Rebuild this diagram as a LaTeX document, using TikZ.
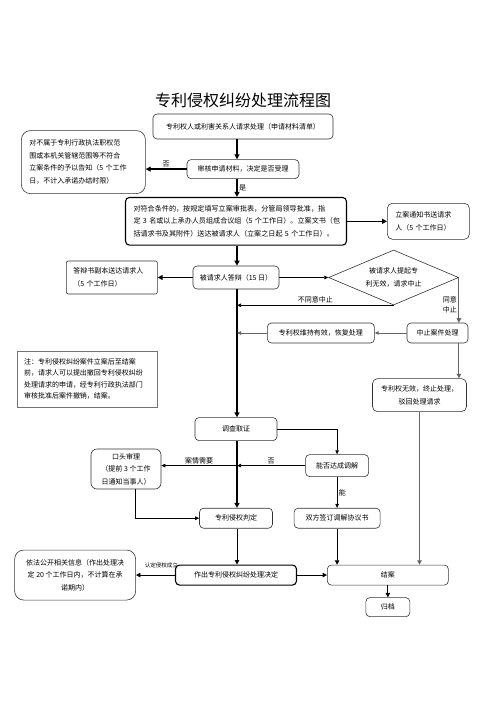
\documentclass[tikz,border=0pt]{standalone}
\usepackage{fontspec}
\setmainfont{Noto Sans CJK SC}
\usepackage{tikz}
\usetikzlibrary{positioning, arrows.meta, shapes.geometric, calc}

\begin{document}
\begin{tikzpicture}[
    x=1pt, y=1pt,
    box/.style={rectangle, draw=black!80, line width=0.6pt, rounded corners=4pt, align=center, inner sep=2pt, font=\fontsize{7}{12.5}\selectfont},
    boldbox/.style={box, draw=black, line width=1.1pt},
    softbox/.style={box, rounded corners=9pt},
    decision/.style={diamond, draw=black!80, line width=0.6pt, aspect=2.4, minimum width=130pt, minimum height=55pt, inner sep=0pt, align=center, font=\fontsize{7}{12.5}\selectfont},
    flow/.style={-{Triangle[width=5pt,length=5pt]}, line width=1.3pt},
    mid/.style={-{Triangle[width=4.5pt,length=4.5pt]}, line width=0.9pt},
    link/.style={-{Triangle[width=3.5pt,length=4pt]}, line width=0.6pt},
    grayflow/.style={-{Triangle[width=4.5pt,length=4.5pt]}, draw=black!60, line width=1.1pt},
    graylink/.style={-{Triangle[width=3.5pt,length=4pt]}, draw=black!60, line width=0.8pt},
    lab/.style={font=\fontsize{7}{10}\selectfont, inner sep=1.5pt, align=center}
]
\useasboundingbox (0,0) rectangle (496,-702);
\coordinate (spine) at (237,0); % main vertical line

% Nodes
\node[font=\fontsize{16}{18}\selectfont] (title) at (243,-100) {专利侵权纠纷处理流程图};
\node[box, minimum width=180pt, minimum height=25pt] (apply) at (243,-126.5) {专利权人或利害关系人请求处理（申请材料清单）};
\node[box, minimum width=112pt, minimum height=19pt] (review) [below=20pt of apply] {审核申请材料，决定是否受理};
\node[softbox, align=left, text width=108pt, inner sep=8pt, minimum height=63pt] (reject) [left=41pt of review, yshift=7pt] {对不属于专利行政执法职权范\\围或本机关管辖范围等不符合\\立案条件的予以告知（5~个工作\\日，不计入承诺办结时限）};
\node[boldbox, align=left, text width=205pt, inner sep=8pt, minimum height=46pt, font=\fontsize{7.1}{12.5}\selectfont] (accept) [below=18pt of review, xshift=-7pt] {对符合条件的，按规定填写立案审批表，分管局领导批准，指\\定~3~名或以上承办人员组成合议组（5~个工作日）。立案文书（包\\括请求书及其附件）送达被请求人（立案之日起~5~个工作日）。};
\node[box, rounded corners=5pt, align=left, text width=66pt, inner sep=8pt, minimum height=36pt] (notify) [right=40pt of accept] {立案通知书送请求\\人（5~个工作日）};
\node[box, minimum width=86pt, minimum height=23pt] (reply) [below=20pt of accept] {被请求人答辩（15~日）};
\node[box, rounded corners=2pt, align=left, text width=77pt, inner sep=7pt, minimum height=33pt] (copy) [left=35pt of reply] {答辩书副本送达请求人\\（5~个工作日）};
\node[decision] (dia) [right=49pt of reply] {被请求人提起专\\利无效，请求中止};
\node[box, minimum width=61pt, minimum height=20pt] (suspend) at (437.5,-333) {中止案件处理};
\node[box, minimum width=107pt, minimum height=20pt] (valid) [left=32pt of suspend] {专利权维持有效，恢复处理};
\node[box, rounded corners=5pt, minimum width=94pt, minimum height=33pt] (invalid) [below=35pt of suspend, xshift=-18pt] {专利权无效，终止处理，\\驳回处理请求};
\node[box, rounded corners=0pt, draw=black!55, align=left, text width=126pt, inner sep=7pt, minimum height=56pt, font=\fontsize{7}{11.5}\selectfont] (note) at (87,-379) {注：专利侵权纠纷案件立案后至结案\\前，请求人可以提出撤回专利侵权纠纷\\处理请求的申请，经专利行政执法部门\\审核批准后案件撤销，结案。};
\node[box, minimum width=82pt, minimum height=23pt] (investigate) [below=128pt of reply] {调查取证};
\node[box, minimum width=73pt, minimum height=20pt] (judge) [below=67pt of investigate] {专利侵权判定};
\node[box, minimum width=86pt, minimum height=20pt] (agree) [right=21pt of judge] {双方签订调解协议书};
\node[box, minimum width=63pt, minimum height=22pt] (mediate) [above=31pt of agree] {能否达成调解};
\node[box, rounded corners=6pt, minimum width=70pt, minimum height=40pt] (hearing) at (126,-469) {口头审理\\（提前~3~个工作\\日通知当事人）};
\node[boldbox, minimum width=121pt, minimum height=20pt] (decide) [below=36pt of judge] {作出专利侵权纠纷处理决定};
\node[softbox, minimum width=121pt, minimum height=50pt] (publish) [left=39pt of decide] {依法公开相关信息（作出处理决\\定~20~个工作日内，不计算在承\\诺期内）};
\node[box, minimum width=121pt, minimum height=20pt] (close) [right=30pt of decide] {结案};
\node[box, minimum width=44pt, minimum height=19pt] (archive) [below=12pt of close] {归档};

% Arrows
\draw[flow] (apply.south -| spine) -- (review.north -| spine);
\draw[flow] (review.west) -- node[lab, above] {否} (review.west -| reject.east);
\draw[flow] (review.south -| spine) -- node[lab, right] {是} (accept.north -| spine);
\draw[flow] (accept.east) -- (accept.east -| notify.west);
\draw[flow] (accept.south -| spine) -- (reply.north -| spine);
\draw[flow] (reply.west) -- (reply.west -| copy.east);
\draw[link] (reply.east) -- (reply.east -| dia.west);
\draw[flow] (reply.south -| spine) -- (investigate.north -| spine);
\draw[link] (dia.south) -- node[lab, above] {不同意中止} (dia.south -| spine);
\draw[grayflow] (dia.east) -- node[lab, left, pos=0.6] {同意\\中止} (dia.east |- suspend.north);
\draw[graylink] (suspend.west) -- (valid.east);
\draw[graylink] (valid.west) -- (valid.west -| spine);
\draw[grayflow] (suspend.south -| dia.east) -- (invalid.north -| dia.east);

% Investigation and decision
\draw[link] (investigate.east) -| (mediate.north);
\draw[link] (mediate.west) -- node[lab, above] {否} (mediate.west -| spine);
\draw[link] (mediate.west -| spine) -- node[lab, above] {案情需要} (mediate.west -| hearing.east);
\draw[flow] (investigate.south -| spine) -- (judge.north -| spine);
\draw[link] ([xshift=9pt] hearing.south) |- (judge.west);
\draw[link] (mediate.south) -- node[lab, right] {能} (mediate.south |- agree.north);
\draw[mid] (judge.south -| spine) -- (decide.north -| spine);
\draw[mid] (decide.west) -- node[lab, above=5pt, pos=0.35, font=\fontsize{5.5}{7}\selectfont] {认定侵权成立} (decide.west -| publish.east);
\draw[mid] (decide.east) -- (close.west);
\draw[mid] (agree.south) -- (agree.south |- close.north);
\draw[grayflow] (invalid.south) -- (invalid.south |- close.north);
\draw[mid] (close.south) -- (archive.north);

\end{tikzpicture}
\end{document}
